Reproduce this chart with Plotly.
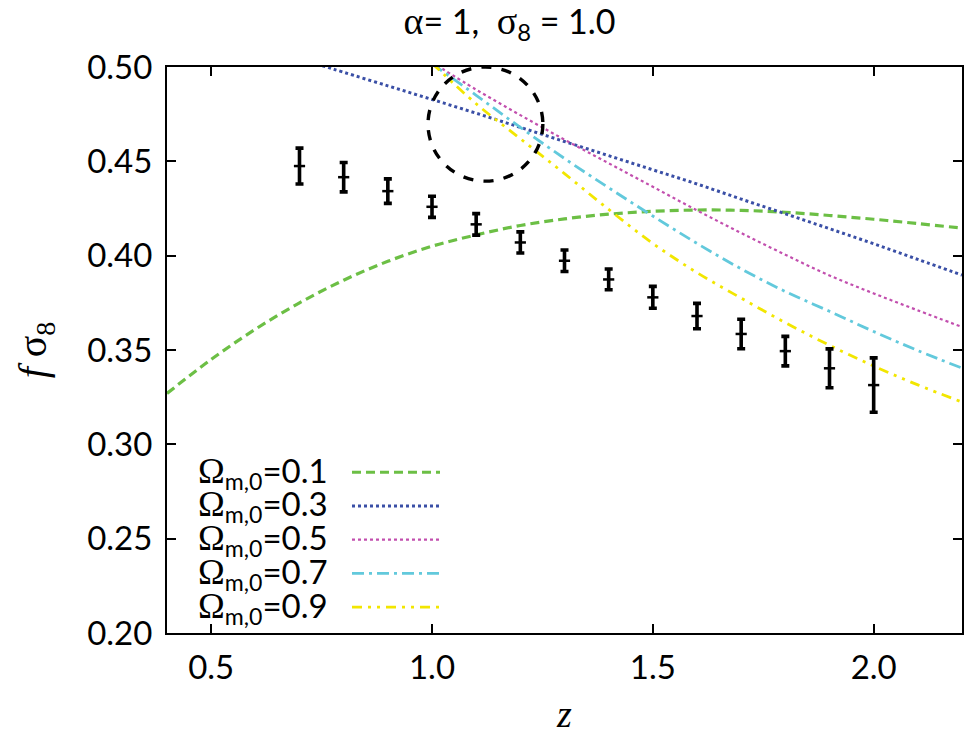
import plotly.graph_objects as go

# ---------------- data ----------------
z_obs = [0.7, 0.8, 0.9, 1.0, 1.1, 1.2, 1.3, 1.4, 1.5, 1.6, 1.7, 1.8, 1.9, 2.0]
fs8_obs = [0.4475, 0.4416, 0.4342, 0.4259, 0.4166, 0.4070, 0.3973, 0.3874,
           0.3779, 0.3680, 0.3585, 0.3494, 0.3403, 0.3314]
fs8_err = [0.0095, 0.0078, 0.0065, 0.0056, 0.0057, 0.0056, 0.0057, 0.0055,
           0.0058, 0.0067, 0.0078, 0.0078, 0.0103, 0.0144]

z_om01 = [0.4, 0.5, 0.6, 0.7, 0.8, 0.9, 1.0, 1.1, 1.2, 1.3, 1.4, 1.5, 1.6,
          1.7, 1.8, 1.9, 2.0, 2.1, 2.2]
fs8_om01 = [0.327, 0.345, 0.361, 0.375, 0.387, 0.397, 0.405, 0.411, 0.416,
            0.4195, 0.422, 0.4235, 0.4242, 0.424, 0.423, 0.4213, 0.4193,
            0.417, 0.4146]

z_om03 = [0.7, 0.75, 0.8, 0.9, 1.0, 1.1, 1.2, 1.3, 1.4, 1.5, 1.6, 1.7, 1.8,
          1.9, 2.0, 2.1, 2.2]
fs8_om03 = [0.5045, 0.5008, 0.4972, 0.490, 0.4828, 0.4755, 0.468, 0.4605,
            0.453, 0.4455, 0.438, 0.430, 0.4222, 0.4143, 0.4063, 0.398, 0.3897]

z_om05 = [1.0, 1.1, 1.2, 1.3, 1.4, 1.5, 1.6, 1.7, 1.8, 1.9, 2.0, 2.1, 2.2]
fs8_om05 = [0.5025, 0.488, 0.4745, 0.4615, 0.449, 0.4365, 0.424, 0.412,
            0.4005, 0.3895, 0.380, 0.371, 0.3622]

z_om07 = [1.0, 1.1, 1.2, 1.3, 1.4, 1.5, 1.6, 1.7, 1.8, 1.9, 2.0, 2.1, 2.2]
fs8_om07 = [0.5017, 0.485, 0.468, 0.4515, 0.436, 0.421, 0.4065, 0.393,
            0.381, 0.3705, 0.3598, 0.3497, 0.3404]

z_om09 = [1.0, 1.1, 1.2, 1.3, 1.4, 1.5, 1.6, 1.7, 1.8, 1.9, 2.0, 2.1, 2.2]
fs8_om09 = [0.502, 0.4805, 0.462, 0.4435, 0.4245, 0.4065, 0.391, 0.3775,
            0.3645, 0.3525, 0.3415, 0.3315, 0.3224]

legend_labels = ["0.1", "0.3", "0.5", "0.7", "0.9"]

x_ticks = [0.5, 1.0, 1.5, 2.0]
y_ticks = [0.20, 0.25, 0.30, 0.35, 0.40, 0.45, 0.50]

# highlighted region (dashed circle), data units
circle_x = [0.991, 1.251]
circle_y = [0.4395, 0.5]

# ---------------- styles ----------------
series = [
    (z_om01, fs8_om01, "#6cbf45", "9px,5px", 3.2),
    (z_om03, fs8_om03, "#3a4fa6", "dot", 3.0),
    (z_om05, fs8_om05, "#c24fae", "dot", 2.2),
    (z_om07, fs8_om07, "#62c9dc", "12px,5px,3px,5px", 2.8),
    (z_om09, fs8_om09, "#f2e600", "10px,6px,3px,6px,3px,6px", 2.8),
]

SERIF = "Liberation Serif"
SANS = "Lato"
TICK_SIZE = 33

fig = go.Figure()

for zs, vals, col, dash, w in series:
    fig.add_trace(go.Scatter(x=zs, y=vals, mode="lines",
                             line=dict(color=col, dash=dash, width=w, shape="spline"),
                             showlegend=False, hoverinfo="skip"))

fig.add_trace(go.Scatter(
    x=z_obs, y=fs8_obs, mode="markers",
    marker=dict(symbol="line-ew-open", size=8, color="black",
                line=dict(color="black", width=2.5)),
    error_y=dict(type="data", array=fs8_err, visible=True,
                 color="black", thickness=3.6, width=4),
    showlegend=False, hoverinfo="skip"))

# dashed circle
fig.add_shape(type="circle", xref="x", yref="y",
              x0=circle_x[0], x1=circle_x[1], y0=circle_y[0], y1=circle_y[1],
              line=dict(color="black", width=3.4, dash="dash"))

# custom legend (text left, line sample right)
leg_top = 0.284
leg_step = 0.0596
for i, ((_, _, col, dash, w), lab) in enumerate(zip(series, legend_labels)):
    yy = leg_top - i * leg_step
    fig.add_annotation(
        xref="paper", yref="paper", x=0.205, y=yy, xanchor="right", yanchor="middle",
        showarrow=False,
        text=(f'<span style="font-family:{SERIF};font-size:36px">Ω</span>'
              f'<sub>m,0</sub>={lab}'),
        font=dict(family=SANS, size=33, color="black"))
    fig.add_shape(type="line", xref="paper", yref="paper",
                  x0=0.2327, x1=0.3434, y0=yy, y1=yy,
                  line=dict(color=col, dash=dash, width=w))

fig.update_layout(
    width=965, height=740,
    margin=dict(l=167, r=3, t=67, b=107),
    paper_bgcolor="white", plot_bgcolor="white",
    font=dict(family=SANS, size=TICK_SIZE, color="black"),
    title=dict(
        text=(f'<span style="font-family:{SERIF};font-size:38px">α</span>= 1,  '
              f'<span style="font-family:{SERIF};font-size:38px">σ</span><sub>8</sub> = 1.0'),
        x=0.528, xanchor="center", xref="container",
        y=0.97, yanchor="middle", yref="container", automargin=False,
        font=dict(family=SANS, size=34, color="black")),
    xaxis=dict(range=[0.4, 2.2], tickvals=x_ticks, tickformat=".1f",
               automargin=False,
               showgrid=False, zeroline=False,
               showline=True, linecolor="black", linewidth=2, mirror="ticks",
               ticks="inside", ticklen=9, tickwidth=1.5, tickcolor="black",
               ticklabelstandoff=4,
               tickfont=dict(family=SANS, size=TICK_SIZE),
               title=dict(text="z", standoff=16,
                          font=dict(family=SERIF, size=38, style="italic"))),
    yaxis=dict(range=[0.2, 0.5], tickvals=y_ticks, tickformat=".2f",
               automargin=False,
               showgrid=False, zeroline=False,
               showline=True, linecolor="black", linewidth=2, mirror="ticks",
               ticks="inside", ticklen=9, tickwidth=1.5, tickcolor="black",
               ticklabelstandoff=6,
               tickfont=dict(family=SANS, size=TICK_SIZE),
               title=dict(text=f'<i>f</i> σ<sub>8</sub>', standoff=28,
                          font=dict(family=SERIF, size=40))),
)

fig.write_html("out.html", config={"displayModeBar": False},
               post_script="document.body.style.margin='0';document.body.style.overflow='hidden';")
